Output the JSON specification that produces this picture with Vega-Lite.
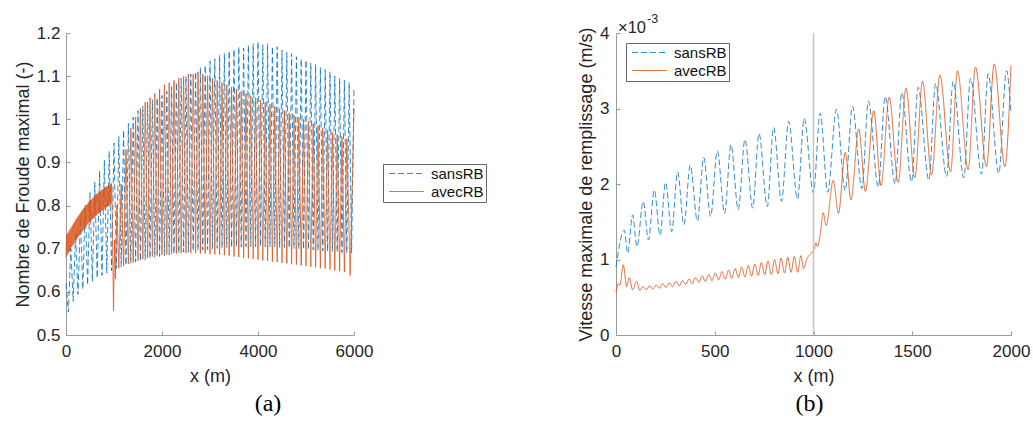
{
  "$schema": "https://vega.github.io/schema/vega-lite/v6.json",
  "padding": {"left": 14, "top": 13, "right": 2, "bottom": 5},
  "spacing": 90,
  "config": {
    "font": "Liberation Sans",
    "view": {"stroke": null},
    "axis": {"grid": false, "domainColor": "#9a9a9a", "tickColor": "#9a9a9a", "tickSize": -4, "labelFontSize": 17, "labelColor": "#262626", "titleFontSize": 18, "titleFontWeight": "normal", "titleColor": "#262626", "labelFlush": false, "labelOverlap": false},
    "legend": {"labelFontSize": 15, "labelColor": "#111", "symbolStrokeWidth": 1, "strokeColor": "#666", "fillColor": "white", "padding": 2, "rowPadding": 2, "labelOffset": 17, "symbolOffset": 14, "symbolType": "M-3.5,0H3.5", "symbolSize": 100, "title": null},
    "title": {"font": "Liberation Serif", "fontSize": 24, "fontWeight": "normal", "color": "#000"}
  },
  "datasets": {
    "fr": [
      {"x":0,"y":0.62,"s":"sansRB"},{"x":50,"y":0.553,"s":"sansRB"},{"x":100,"y":0.70,"s":"sansRB"},{"x":150,"y":0.578,"s":"sansRB"},{"x":200,"y":0.735,"s":"sansRB"},{"x":250,"y":0.594,"s":"sansRB"},{"x":300,"y":0.77,"s":"sansRB"},{"x":350,"y":0.606,"s":"sansRB"},{"x":400,"y":0.80,"s":"sansRB"},{"x":450,"y":0.616,"s":"sansRB"},{"x":500,"y":0.83,"s":"sansRB"},{"x":550,"y":0.624,"s":"sansRB"},{"x":600,"y":0.855,"s":"sansRB"},{"x":650,"y":0.632,"s":"sansRB"},{"x":700,"y":0.88,"s":"sansRB"},{"x":750,"y":0.638,"s":"sansRB"},{"x":800,"y":0.905,"s":"sansRB"},{"x":850,"y":0.644,"s":"sansRB"},{"x":900,"y":0.925,"s":"sansRB"},{"x":950,"y":0.649,"s":"sansRB"},{"x":1000,"y":0.945,"s":"sansRB"},{"x":1050,"y":0.654,"s":"sansRB"},{"x":1100,"y":0.96,"s":"sansRB"},{"x":1150,"y":0.658,"s":"sansRB"},{"x":1200,"y":0.975,"s":"sansRB"},{"x":1250,"y":0.662,"s":"sansRB"},{"x":1300,"y":0.99,"s":"sansRB"},{"x":1350,"y":0.666,"s":"sansRB"},{"x":1400,"y":1.005,"s":"sansRB"},{"x":1450,"y":0.669,"s":"sansRB"},{"x":1500,"y":1.02,"s":"sansRB"},{"x":1550,"y":0.672,"s":"sansRB"},{"x":1600,"y":1.03,"s":"sansRB"},{"x":1650,"y":0.675,"s":"sansRB"},{"x":1700,"y":1.04,"s":"sansRB"},{"x":1750,"y":0.678,"s":"sansRB"},{"x":1800,"y":1.045,"s":"sansRB"},{"x":1850,"y":0.68,"s":"sansRB"},{"x":1900,"y":1.05,"s":"sansRB"},{"x":1950,"y":0.682,"s":"sansRB"},{"x":2000,"y":1.055,"s":"sansRB"},{"x":2050,"y":0.684,"s":"sansRB"},{"x":2100,"y":1.065,"s":"sansRB"},{"x":2150,"y":0.686,"s":"sansRB"},{"x":2200,"y":1.075,"s":"sansRB"},{"x":2250,"y":0.688,"s":"sansRB"},{"x":2300,"y":1.085,"s":"sansRB"},{"x":2350,"y":0.69,"s":"sansRB"},{"x":2400,"y":1.095,"s":"sansRB"},{"x":2450,"y":0.692,"s":"sansRB"},{"x":2500,"y":1.1,"s":"sansRB"},{"x":2550,"y":0.693,"s":"sansRB"},{"x":2600,"y":1.105,"s":"sansRB"},{"x":2650,"y":0.695,"s":"sansRB"},{"x":2700,"y":1.11,"s":"sansRB"},{"x":2750,"y":0.696,"s":"sansRB"},{"x":2800,"y":1.12,"s":"sansRB"},{"x":2850,"y":0.697,"s":"sansRB"},{"x":2900,"y":1.125,"s":"sansRB"},{"x":2950,"y":0.698,"s":"sansRB"},{"x":3000,"y":1.135,"s":"sansRB"},{"x":3050,"y":0.7,"s":"sansRB"},{"x":3100,"y":1.14,"s":"sansRB"},{"x":3150,"y":0.701,"s":"sansRB"},{"x":3200,"y":1.148,"s":"sansRB"},{"x":3250,"y":0.702,"s":"sansRB"},{"x":3300,"y":1.152,"s":"sansRB"},{"x":3350,"y":0.703,"s":"sansRB"},{"x":3400,"y":1.158,"s":"sansRB"},{"x":3450,"y":0.703,"s":"sansRB"},{"x":3500,"y":1.162,"s":"sansRB"},{"x":3550,"y":0.704,"s":"sansRB"},{"x":3600,"y":1.168,"s":"sansRB"},{"x":3650,"y":0.704,"s":"sansRB"},{"x":3700,"y":1.165,"s":"sansRB"},{"x":3750,"y":0.705,"s":"sansRB"},{"x":3800,"y":1.172,"s":"sansRB"},{"x":3850,"y":0.705,"s":"sansRB"},{"x":3900,"y":1.175,"s":"sansRB"},{"x":3950,"y":0.705,"s":"sansRB"},{"x":4000,"y":1.18,"s":"sansRB"},{"x":4050,"y":0.705,"s":"sansRB"},{"x":4100,"y":1.172,"s":"sansRB"},{"x":4150,"y":0.705,"s":"sansRB"},{"x":4200,"y":1.175,"s":"sansRB"},{"x":4250,"y":0.704,"s":"sansRB"},{"x":4300,"y":1.168,"s":"sansRB"},{"x":4350,"y":0.704,"s":"sansRB"},{"x":4400,"y":1.168,"s":"sansRB"},{"x":4450,"y":0.703,"s":"sansRB"},{"x":4500,"y":1.16,"s":"sansRB"},{"x":4550,"y":0.703,"s":"sansRB"},{"x":4600,"y":1.155,"s":"sansRB"},{"x":4650,"y":0.702,"s":"sansRB"},{"x":4700,"y":1.152,"s":"sansRB"},{"x":4750,"y":0.701,"s":"sansRB"},{"x":4800,"y":1.145,"s":"sansRB"},{"x":4850,"y":0.7,"s":"sansRB"},{"x":4900,"y":1.14,"s":"sansRB"},{"x":4950,"y":0.699,"s":"sansRB"},{"x":5000,"y":1.137,"s":"sansRB"},{"x":5050,"y":0.698,"s":"sansRB"},{"x":5100,"y":1.13,"s":"sansRB"},{"x":5150,"y":0.697,"s":"sansRB"},{"x":5200,"y":1.127,"s":"sansRB"},{"x":5250,"y":0.696,"s":"sansRB"},{"x":5300,"y":1.12,"s":"sansRB"},{"x":5350,"y":0.695,"s":"sansRB"},{"x":5400,"y":1.115,"s":"sansRB"},{"x":5450,"y":0.694,"s":"sansRB"},{"x":5500,"y":1.11,"s":"sansRB"},{"x":5550,"y":0.693,"s":"sansRB"},{"x":5600,"y":1.1,"s":"sansRB"},{"x":5650,"y":0.692,"s":"sansRB"},{"x":5700,"y":1.095,"s":"sansRB"},{"x":5750,"y":0.691,"s":"sansRB"},{"x":5800,"y":1.09,"s":"sansRB"},{"x":5850,"y":0.69,"s":"sansRB"},{"x":5900,"y":1.085,"s":"sansRB"},{"x":5950,"y":0.69,"s":"sansRB"},{"x":6000,"y":1.07,"s":"sansRB"},
      {"x":0,"y":0.680,"s":"avecRB"},{"x":12,"y":0.730,"s":"avecRB"},{"x":24,"y":0.685,"s":"avecRB"},{"x":36,"y":0.735,"s":"avecRB"},{"x":48,"y":0.690,"s":"avecRB"},{"x":60,"y":0.740,"s":"avecRB"},{"x":72,"y":0.694,"s":"avecRB"},{"x":84,"y":0.745,"s":"avecRB"},{"x":96,"y":0.699,"s":"avecRB"},{"x":108,"y":0.749,"s":"avecRB"},{"x":120,"y":0.704,"s":"avecRB"},{"x":132,"y":0.754,"s":"avecRB"},{"x":144,"y":0.708,"s":"avecRB"},{"x":156,"y":0.758,"s":"avecRB"},{"x":168,"y":0.712,"s":"avecRB"},{"x":180,"y":0.762,"s":"avecRB"},{"x":192,"y":0.717,"s":"avecRB"},{"x":204,"y":0.767,"s":"avecRB"},{"x":216,"y":0.721,"s":"avecRB"},{"x":228,"y":0.771,"s":"avecRB"},{"x":240,"y":0.725,"s":"avecRB"},{"x":252,"y":0.775,"s":"avecRB"},{"x":264,"y":0.729,"s":"avecRB"},{"x":276,"y":0.779,"s":"avecRB"},{"x":288,"y":0.733,"s":"avecRB"},{"x":300,"y":0.783,"s":"avecRB"},{"x":312,"y":0.737,"s":"avecRB"},{"x":324,"y":0.787,"s":"avecRB"},{"x":336,"y":0.740,"s":"avecRB"},{"x":348,"y":0.790,"s":"avecRB"},{"x":360,"y":0.744,"s":"avecRB"},{"x":372,"y":0.794,"s":"avecRB"},{"x":384,"y":0.748,"s":"avecRB"},{"x":396,"y":0.797,"s":"avecRB"},{"x":408,"y":0.751,"s":"avecRB"},{"x":420,"y":0.801,"s":"avecRB"},{"x":432,"y":0.754,"s":"avecRB"},{"x":444,"y":0.804,"s":"avecRB"},{"x":456,"y":0.757,"s":"avecRB"},{"x":468,"y":0.807,"s":"avecRB"},{"x":480,"y":0.760,"s":"avecRB"},{"x":492,"y":0.810,"s":"avecRB"},{"x":504,"y":0.763,"s":"avecRB"},{"x":516,"y":0.813,"s":"avecRB"},{"x":528,"y":0.766,"s":"avecRB"},{"x":540,"y":0.815,"s":"avecRB"},{"x":552,"y":0.769,"s":"avecRB"},{"x":564,"y":0.818,"s":"avecRB"},{"x":576,"y":0.771,"s":"avecRB"},{"x":588,"y":0.821,"s":"avecRB"},{"x":600,"y":0.774,"s":"avecRB"},{"x":612,"y":0.823,"s":"avecRB"},{"x":624,"y":0.776,"s":"avecRB"},{"x":636,"y":0.826,"s":"avecRB"},{"x":648,"y":0.779,"s":"avecRB"},{"x":660,"y":0.828,"s":"avecRB"},{"x":672,"y":0.781,"s":"avecRB"},{"x":684,"y":0.830,"s":"avecRB"},{"x":696,"y":0.784,"s":"avecRB"},{"x":708,"y":0.833,"s":"avecRB"},{"x":720,"y":0.786,"s":"avecRB"},{"x":732,"y":0.835,"s":"avecRB"},{"x":744,"y":0.788,"s":"avecRB"},{"x":756,"y":0.837,"s":"avecRB"},{"x":768,"y":0.790,"s":"avecRB"},{"x":780,"y":0.839,"s":"avecRB"},{"x":792,"y":0.792,"s":"avecRB"},{"x":804,"y":0.841,"s":"avecRB"},{"x":816,"y":0.794,"s":"avecRB"},{"x":828,"y":0.843,"s":"avecRB"},{"x":840,"y":0.796,"s":"avecRB"},{"x":852,"y":0.845,"s":"avecRB"},{"x":864,"y":0.797,"s":"avecRB"},{"x":876,"y":0.846,"s":"avecRB"},{"x":888,"y":0.799,"s":"avecRB"},{"x":900,"y":0.848,"s":"avecRB"},{"x":912,"y":0.801,"s":"avecRB"},{"x":924,"y":0.850,"s":"avecRB"},{"x":936,"y":0.803,"s":"avecRB"},{"x":948,"y":0.851,"s":"avecRB"},{"x":960,"y":0.804,"s":"avecRB"},
      {"x":990,"y":0.556,"s":"avecRB"},{"x":1010,"y":0.72,"s":"avecRB"},{"x":1030,"y":0.63,"s":"avecRB"},{"x":1060,"y":0.80,"s":"avecRB"},{"x":1100,"y":0.655,"s":"avecRB"},{"x":1150,"y":0.85,"s":"avecRB"},{"x":1200,"y":0.66,"s":"avecRB"},{"x":1250,"y":0.93,"s":"avecRB"},{"x":1300,"y":0.665,"s":"avecRB"},{"x":1350,"y":0.98,"s":"avecRB"},{"x":1400,"y":0.668,"s":"avecRB"},{"x":1450,"y":1.005,"s":"avecRB"},{"x":1500,"y":0.672,"s":"avecRB"},{"x":1550,"y":1.025,"s":"avecRB"},{"x":1600,"y":0.676,"s":"avecRB"},{"x":1650,"y":1.04,"s":"avecRB"},{"x":1700,"y":0.679,"s":"avecRB"},{"x":1750,"y":1.05,"s":"avecRB"},{"x":1800,"y":0.682,"s":"avecRB"},{"x":1850,"y":1.06,"s":"avecRB"},{"x":1900,"y":0.684,"s":"avecRB"},{"x":1950,"y":1.07,"s":"avecRB"},{"x":2000,"y":0.686,"s":"avecRB"},{"x":2050,"y":1.08,"s":"avecRB"},{"x":2100,"y":0.687,"s":"avecRB"},{"x":2150,"y":1.085,"s":"avecRB"},{"x":2200,"y":0.688,"s":"avecRB"},{"x":2250,"y":1.09,"s":"avecRB"},{"x":2300,"y":0.689,"s":"avecRB"},{"x":2350,"y":1.095,"s":"avecRB"},{"x":2400,"y":0.69,"s":"avecRB"},{"x":2450,"y":1.1,"s":"avecRB"},{"x":2500,"y":0.69,"s":"avecRB"},{"x":2550,"y":1.105,"s":"avecRB"},{"x":2600,"y":0.69,"s":"avecRB"},{"x":2650,"y":1.105,"s":"avecRB"},{"x":2700,"y":0.69,"s":"avecRB"},{"x":2750,"y":1.11,"s":"avecRB"},{"x":2800,"y":0.689,"s":"avecRB"},{"x":2850,"y":1.105,"s":"avecRB"},{"x":2900,"y":0.689,"s":"avecRB"},{"x":2950,"y":1.1,"s":"avecRB"},{"x":3000,"y":0.688,"s":"avecRB"},{"x":3050,"y":1.095,"s":"avecRB"},{"x":3100,"y":0.687,"s":"avecRB"},{"x":3150,"y":1.09,"s":"avecRB"},{"x":3200,"y":0.686,"s":"avecRB"},{"x":3250,"y":1.085,"s":"avecRB"},{"x":3300,"y":0.685,"s":"avecRB"},{"x":3350,"y":1.08,"s":"avecRB"},{"x":3400,"y":0.684,"s":"avecRB"},{"x":3450,"y":1.075,"s":"avecRB"},{"x":3500,"y":0.682,"s":"avecRB"},{"x":3550,"y":1.07,"s":"avecRB"},{"x":3600,"y":0.681,"s":"avecRB"},{"x":3650,"y":1.065,"s":"avecRB"},{"x":3700,"y":0.679,"s":"avecRB"},{"x":3750,"y":1.06,"s":"avecRB"},{"x":3800,"y":0.678,"s":"avecRB"},{"x":3850,"y":1.055,"s":"avecRB"},{"x":3900,"y":0.676,"s":"avecRB"},{"x":3950,"y":1.05,"s":"avecRB"},{"x":4000,"y":0.675,"s":"avecRB"},{"x":4050,"y":1.045,"s":"avecRB"},{"x":4100,"y":0.673,"s":"avecRB"},{"x":4150,"y":1.04,"s":"avecRB"},{"x":4200,"y":0.672,"s":"avecRB"},{"x":4250,"y":1.035,"s":"avecRB"},{"x":4300,"y":0.67,"s":"avecRB"},{"x":4350,"y":1.03,"s":"avecRB"},{"x":4400,"y":0.669,"s":"avecRB"},{"x":4450,"y":1.025,"s":"avecRB"},{"x":4500,"y":0.667,"s":"avecRB"},{"x":4550,"y":1.02,"s":"avecRB"},{"x":4600,"y":0.666,"s":"avecRB"},{"x":4650,"y":1.015,"s":"avecRB"},{"x":4700,"y":0.664,"s":"avecRB"},{"x":4750,"y":1.01,"s":"avecRB"},{"x":4800,"y":0.663,"s":"avecRB"},{"x":4850,"y":1.005,"s":"avecRB"},{"x":4900,"y":0.661,"s":"avecRB"},{"x":4950,"y":1.0,"s":"avecRB"},{"x":5000,"y":0.66,"s":"avecRB"},{"x":5050,"y":0.995,"s":"avecRB"},{"x":5100,"y":0.658,"s":"avecRB"},{"x":5150,"y":0.99,"s":"avecRB"},{"x":5200,"y":0.657,"s":"avecRB"},{"x":5250,"y":0.985,"s":"avecRB"},{"x":5300,"y":0.655,"s":"avecRB"},{"x":5350,"y":0.98,"s":"avecRB"},{"x":5400,"y":0.654,"s":"avecRB"},{"x":5450,"y":0.975,"s":"avecRB"},{"x":5500,"y":0.652,"s":"avecRB"},{"x":5550,"y":0.97,"s":"avecRB"},{"x":5600,"y":0.65,"s":"avecRB"},{"x":5650,"y":0.965,"s":"avecRB"},{"x":5700,"y":0.648,"s":"avecRB"},{"x":5750,"y":0.96,"s":"avecRB"},{"x":5800,"y":0.646,"s":"avecRB"},{"x":5850,"y":0.955,"s":"avecRB"},{"x":5920,"y":0.638,"s":"avecRB"},{"x":6000,"y":1.025,"s":"avecRB"}
    ],
    "vi": [
      {"x":0,"y":0.00090,"s":"sansRB"},{"x":42,"y":0.00139,"s":"sansRB"},{"x":59,"y":0.00108,"s":"sansRB"},{"x":84,"y":0.00159,"s":"sansRB"},{"x":106,"y":0.00117,"s":"sansRB"},{"x":138,"y":0.00177,"s":"sansRB"},{"x":164,"y":0.00126,"s":"sansRB"},{"x":194,"y":0.00192,"s":"sansRB"},{"x":223,"y":0.00132,"s":"sansRB"},{"x":251,"y":0.00202,"s":"sansRB"},{"x":282,"y":0.00137,"s":"sansRB"},{"x":312,"y":0.00216,"s":"sansRB"},{"x":344,"y":0.00146,"s":"sansRB"},{"x":376,"y":0.00225,"s":"sansRB"},{"x":412,"y":0.00151,"s":"sansRB"},{"x":444,"y":0.00235,"s":"sansRB"},{"x":479,"y":0.00157,"s":"sansRB"},{"x":513,"y":0.00244,"s":"sansRB"},{"x":550,"y":0.00161,"s":"sansRB"},{"x":582,"y":0.00252,"s":"sansRB"},{"x":619,"y":0.00166,"s":"sansRB"},{"x":653,"y":0.00259,"s":"sansRB"},{"x":692,"y":0.00168,"s":"sansRB"},{"x":724,"y":0.00267,"s":"sansRB"},{"x":766,"y":0.00170,"s":"sansRB"},{"x":798,"y":0.00275,"s":"sansRB"},{"x":838,"y":0.00177,"s":"sansRB"},{"x":874,"y":0.00283,"s":"sansRB"},{"x":919,"y":0.00180,"s":"sansRB"},{"x":953,"y":0.00287,"s":"sansRB"},{"x":999,"y":0.00188,"s":"sansRB"},{"x":1034,"y":0.00294,"s":"sansRB"},{"x":1072,"y":0.00189,"s":"sansRB"},{"x":1116,"y":0.00299,"s":"sansRB"},{"x":1160,"y":0.00191,"s":"sansRB"},{"x":1197,"y":0.00303,"s":"sansRB"},{"x":1245,"y":0.00194,"s":"sansRB"},{"x":1278,"y":0.00310,"s":"sansRB"},{"x":1328,"y":0.00196,"s":"sansRB"},{"x":1363,"y":0.00316,"s":"sansRB"},{"x":1413,"y":0.00200,"s":"sansRB"},{"x":1447,"y":0.00321,"s":"sansRB"},{"x":1496,"y":0.00203,"s":"sansRB"},{"x":1530,"y":0.00328,"s":"sansRB"},{"x":1584,"y":0.00205,"s":"sansRB"},{"x":1618,"y":0.00333,"s":"sansRB"},{"x":1674,"y":0.00210,"s":"sansRB"},{"x":1707,"y":0.00336,"s":"sansRB"},{"x":1761,"y":0.00208,"s":"sansRB"},{"x":1795,"y":0.00340,"s":"sansRB"},{"x":1851,"y":0.00213,"s":"sansRB"},{"x":1884,"y":0.00346,"s":"sansRB"},{"x":1938,"y":0.00214,"s":"sansRB"},{"x":1977,"y":0.00350,"s":"sansRB"},{"x":2000,"y":0.00294,"s":"sansRB"},
      {"x":0,"y":0.00057,"s":"avecRB"},{"x":12,"y":0.00068,"s":"avecRB"},{"x":20,"y":0.00066,"s":"avecRB"},{"x":37,"y":0.00093,"s":"avecRB"},{"x":54,"y":0.00064,"s":"avecRB"},{"x":67,"y":0.00076,"s":"avecRB"},{"x":84,"y":0.00060,"s":"avecRB"},{"x":105,"y":0.00071,"s":"avecRB"},{"x":120,"y":0.00059,"s":"avecRB"},{"x":137,"y":0.00064,"s":"avecRB"},{"x":153,"y":0.00060,"s":"avecRB"},{"x":170,"y":0.00065,"s":"avecRB"},{"x":186,"y":0.00061,"s":"avecRB"},{"x":203,"y":0.00066,"s":"avecRB"},{"x":220,"y":0.00062,"s":"avecRB"},{"x":236,"y":0.00068,"s":"avecRB"},{"x":253,"y":0.00063,"s":"avecRB"},{"x":270,"y":0.00069,"s":"avecRB"},{"x":286,"y":0.00064,"s":"avecRB"},{"x":303,"y":0.00071,"s":"avecRB"},{"x":320,"y":0.00065,"s":"avecRB"},{"x":336,"y":0.00072,"s":"avecRB"},{"x":353,"y":0.00067,"s":"avecRB"},{"x":370,"y":0.00074,"s":"avecRB"},{"x":386,"y":0.00068,"s":"avecRB"},{"x":403,"y":0.00076,"s":"avecRB"},{"x":420,"y":0.00070,"s":"avecRB"},{"x":436,"y":0.00078,"s":"avecRB"},{"x":453,"y":0.00071,"s":"avecRB"},{"x":470,"y":0.00080,"s":"avecRB"},{"x":486,"y":0.00072,"s":"avecRB"},{"x":503,"y":0.00082,"s":"avecRB"},{"x":520,"y":0.00073,"s":"avecRB"},{"x":536,"y":0.00084,"s":"avecRB"},{"x":553,"y":0.00074,"s":"avecRB"},{"x":570,"y":0.00086,"s":"avecRB"},{"x":586,"y":0.00075,"s":"avecRB"},{"x":603,"y":0.00088,"s":"avecRB"},{"x":620,"y":0.00076,"s":"avecRB"},{"x":636,"y":0.00090,"s":"avecRB"},{"x":653,"y":0.00077,"s":"avecRB"},{"x":670,"y":0.00092,"s":"avecRB"},{"x":686,"y":0.00078,"s":"avecRB"},{"x":703,"y":0.00094,"s":"avecRB"},{"x":720,"y":0.00079,"s":"avecRB"},{"x":736,"y":0.00096,"s":"avecRB"},{"x":753,"y":0.00080,"s":"avecRB"},{"x":770,"y":0.00098,"s":"avecRB"},{"x":786,"y":0.00080,"s":"avecRB"},{"x":803,"y":0.00100,"s":"avecRB"},{"x":820,"y":0.00081,"s":"avecRB"},{"x":836,"y":0.00102,"s":"avecRB"},{"x":853,"y":0.00082,"s":"avecRB"},{"x":870,"y":0.00103,"s":"avecRB"},{"x":886,"y":0.00083,"s":"avecRB"},{"x":903,"y":0.00104,"s":"avecRB"},{"x":920,"y":0.00083,"s":"avecRB"},{"x":936,"y":0.00105,"s":"avecRB"},{"x":950,"y":0.00088,"s":"avecRB"},{"x":965,"y":0.00100,"s":"avecRB"},{"x":980,"y":0.00106,"s":"avecRB"},{"x":995,"y":0.00110,"s":"avecRB"},{"x":1005,"y":0.00115,"s":"avecRB"},{"x":1012,"y":0.00122,"s":"avecRB"},{"x":1020,"y":0.00117,"s":"avecRB"},{"x":1035,"y":0.00135,"s":"avecRB"},{"x":1049,"y":0.00162,"s":"avecRB"},{"x":1064,"y":0.00145,"s":"avecRB"},{"x":1100,"y":0.00205,"s":"avecRB"},{"x":1126,"y":0.00161,"s":"avecRB"},{"x":1161,"y":0.00242,"s":"avecRB"},{"x":1190,"y":0.00179,"s":"avecRB"},{"x":1229,"y":0.00273,"s":"avecRB"},{"x":1263,"y":0.00190,"s":"avecRB"},{"x":1305,"y":0.00297,"s":"avecRB"},{"x":1342,"y":0.00198,"s":"avecRB"},{"x":1383,"y":0.00315,"s":"avecRB"},{"x":1429,"y":0.00202,"s":"avecRB"},{"x":1468,"y":0.00327,"s":"avecRB"},{"x":1513,"y":0.00208,"s":"avecRB"},{"x":1552,"y":0.00336,"s":"avecRB"},{"x":1598,"y":0.00212,"s":"avecRB"},{"x":1640,"y":0.00344,"s":"avecRB"},{"x":1694,"y":0.00216,"s":"avecRB"},{"x":1729,"y":0.00350,"s":"avecRB"},{"x":1783,"y":0.00219,"s":"avecRB"},{"x":1820,"y":0.00355,"s":"avecRB"},{"x":1876,"y":0.00223,"s":"avecRB"},{"x":1915,"y":0.00359,"s":"avecRB"},{"x":1969,"y":0.00223,"s":"avecRB"},{"x":2000,"y":0.00357,"s":"avecRB"}
    ]
  },
  "resolve": {"scale": {"color": "independent", "strokeDash": "independent"}, "legend": {"color": "independent", "strokeDash": "independent"}},
  "hconcat": [
    {
      "width": 288,
      "height": 302,
      "data": {"name": "fr"},
      "title": {"text": "(a)", "orient": "bottom", "anchor": "middle", "frame": "group", "dx": 58, "offset": 7},
      "encoding": {
        "x": {"field": "x", "type": "quantitative", "scale": {"domain": [0, 6000], "nice": false}, "axis": {"values": [0, 2000, 4000, 6000], "format": "d", "title": "x (m)", "labelPadding": 12, "titlePadding": 8}},
        "y": {"field": "y", "type": "quantitative", "scale": {"domain": [0.5, 1.2], "nice": false, "zero": false}, "axis": {"values": [0.5, 0.6, 0.7, 0.8, 0.9, 1.0, 1.1, 1.2], "format": ".1~f", "title": "Nombre de Froude maximal (-)", "labelPadding": 10, "titlePadding": 4}},
        "color": {"field": "s", "type": "nominal", "scale": {"domain": ["sansRB", "avecRB"], "range": ["#0072BD", "#D95319"]}, "legend": {"orient": "none", "legendX": 317, "legendY": 131}},
        "strokeDash": {"field": "s", "type": "nominal", "scale": {"domain": ["sansRB", "avecRB"], "range": [[6, 3], [1, 0]]}, "legend": {"orient": "none", "legendX": 317, "legendY": 131}}
      },
      "layer": [
        {"transform": [{"filter": "datum.s == 'sansRB'"}], "mark": {"type": "line", "strokeWidth": 1, "opacity": 0.8}},
        {"transform": [{"filter": "datum.s == 'avecRB'"}], "mark": {"type": "line", "strokeWidth": 1, "opacity": 0.85}}
      ]
    },
    {
      "width": 395,
      "height": 302,
      "title": {"text": "(b)", "orient": "bottom", "anchor": "middle", "frame": "group", "dx": -4, "offset": 7},
      "layer": [
        {
          "data": {"name": "vi"},
          "transform": [{"filter": "datum.s == 'sansRB'"}],
          "mark": {"type": "line", "strokeWidth": 1, "interpolate": "monotone", "opacity": 0.8},
          "encoding": {
            "x": {"field": "x", "type": "quantitative", "scale": {"domain": [0, 2000], "nice": false}, "axis": {"values": [0, 500, 1000, 1500, 2000], "format": "d", "title": "x (m)", "labelPadding": 12, "titlePadding": 8}},
            "y": {"field": "y", "type": "quantitative", "scale": {"domain": [0, 0.004], "nice": false}, "axis": {"values": [0, 0.001, 0.002, 0.003, 0.004], "labelExpr": "format(datum.value * 1000, '.0f')", "title": "Vitesse maximale de remplissage (m/s)", "labelPadding": 11, "titlePadding": 4}},
            "color": {"field": "s", "type": "nominal", "scale": {"domain": ["sansRB", "avecRB"], "range": ["#0072BD", "#D95319"]}, "legend": {"orient": "none", "legendX": 10, "legendY": 10}},
            "strokeDash": {"field": "s", "type": "nominal", "scale": {"domain": ["sansRB", "avecRB"], "range": [[6, 3], [1, 0]]}, "legend": {"orient": "none", "legendX": 10, "legendY": 10}}
          }
        },
        {
          "data": {"name": "vi"},
          "transform": [{"filter": "datum.s == 'avecRB'"}],
          "mark": {"type": "line", "strokeWidth": 1, "interpolate": "monotone", "opacity": 0.85},
          "encoding": {
            "x": {"field": "x", "type": "quantitative"},
            "y": {"field": "y", "type": "quantitative"},
            "color": {"field": "s", "type": "nominal"},
            "strokeDash": {"field": "s", "type": "nominal"}
          }
        },
        {
          "data": {"values": [{"x": 1000}]},
          "mark": {"type": "rule", "color": "#c4c4c4", "strokeWidth": 1.5},
          "encoding": {"x": {"field": "x", "type": "quantitative"}}
        },
        {
          "data": {"values": [{}]},
          "mark": {"type": "text", "text": "×10", "align": "left", "baseline": "alphabetic", "dx": 2, "dy": 0, "fontSize": 16.5, "color": "#262626", "font": "Liberation Sans"},
          "encoding": {"x": {"datum": 0, "type": "quantitative"}, "y": {"datum": 0.004, "type": "quantitative"}}
        },
        {
          "data": {"values": [{}]},
          "mark": {"type": "text", "text": "-3", "align": "left", "baseline": "alphabetic", "dx": 31, "dy": -10, "fontSize": 12.5, "color": "#262626", "font": "Liberation Sans"},
          "encoding": {"x": {"datum": 0, "type": "quantitative"}, "y": {"datum": 0.004, "type": "quantitative"}}
        }
      ]
    }
  ]
}
